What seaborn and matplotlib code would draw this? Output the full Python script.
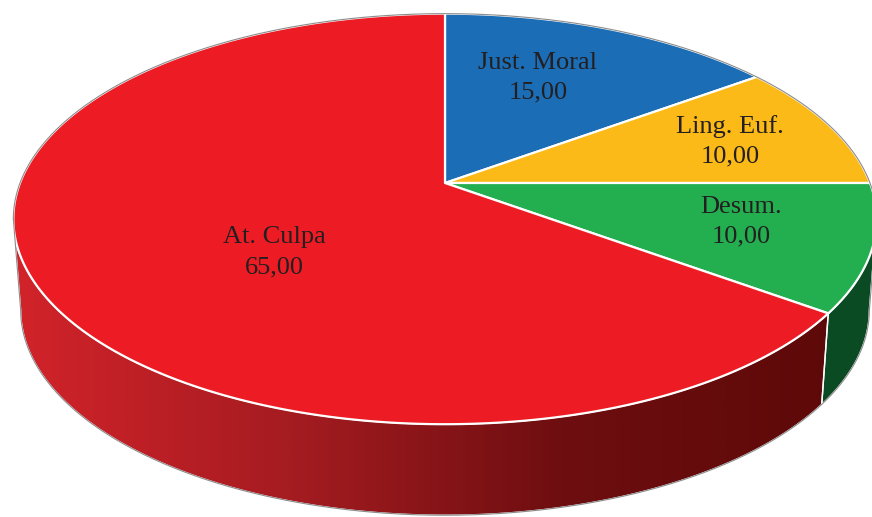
import numpy as np
import matplotlib
matplotlib.use("Agg")
import matplotlib.pyplot as plt
import seaborn as sns
from matplotlib.patches import Polygon
from matplotlib.colors import LinearSegmentedColormap

# Share of each category (percent), in clockwise order starting at 12 o'clock
categories = ["Just. Moral", "Ling. Euf.", "Desum.", "At. Culpa"]
values = [15.0, 10.0, 10.0, 65.0]
value_labels = ["15,00", "10,00", "10,00", "65,00"]

# Face and side colours of every slice
top_colors = ["#1B6DB6", "#FBBA17", "#23AF4F", "#ED1C24"]
side_colors = ["#0E3A62", "#8A6208", "#0B4B24", None]
red_side_ramp = ["#D2232A", "#A51C21", "#6E0E10", "#5E0909"]

# Label placement on the disc (radius fraction, angular nudge in degrees)
label_radius = [0.63, 0.73, 0.70, 0.50]
label_nudge = [-4.5, 0.5, -2.3, -14.0]

sns.set_theme(style="white")
plt.rcParams["font.family"] = ["Liberation Serif", "DejaVu Serif"]

W, H = 872, 517
fig = plt.figure(figsize=(W / 100, H / 100), dpi=100)
ax = fig.add_axes([0, 0, 1, 1])
ax.set_xlim(0, W)
ax.set_ylim(H, 0)
ax.axis("off")

# Perspective disc: apex, half-axes, foreshortening, thickness
CX, CY = 445.0, 183.0
A, B, K = 425.0, 199.0, 0.175
DEPTH, SHRINK = 91.0, 0.983


def project(theta, r=1.0):
    """Map clockwise-from-top angle (deg) and radius on the disc to the screen."""
    t = np.radians(theta)
    u, v = r * np.sin(t), r * np.cos(t)
    w = 1.0 + K * v
    return CX + A * u / w, CY - B * v / w


def lower(x, y):
    return CX + SHRINK * (x - CX), y + DEPTH


# Silhouette tangents: the side wall is visible between them (near half)
grid = np.linspace(0, 360, 3601)
gx, _ = project(grid)
right_tan = grid[np.argmax(gx)]
left_tan = grid[np.argmin(gx)]

bounds = np.concatenate([[0.0], np.cumsum(values) / np.sum(values) * 360.0])

# Side walls
for i in range(len(values)):
    a0, a1 = max(bounds[i], right_tan), min(bounds[i + 1], left_tan)
    if a1 <= a0:
        continue
    th = np.linspace(a0, a1, 300)
    x, y = project(th)
    xb, yb = lower(x, y)
    pts = np.column_stack([np.concatenate([x, xb[::-1]]), np.concatenate([y, yb[::-1]])])
    if side_colors[i] is None:
        poly = Polygon(pts, closed=True, facecolor="none", edgecolor="white", lw=1.0, zorder=2)
        ax.add_patch(poly)
        cmap = LinearSegmentedColormap.from_list("side", red_side_ramp)
        grad = np.linspace(0, 1, 512).reshape(1, -1)
        im = ax.imshow(grad, cmap=cmap, extent=(14, 835, H, 0), aspect="auto", zorder=1)
        im.set_clip_path(poly)
    else:
        ax.add_patch(Polygon(pts, closed=True, facecolor=side_colors[i],
                             edgecolor="white", lw=1.0, zorder=2))

# Top faces
for i in range(len(values)):
    th = np.linspace(bounds[i], bounds[i + 1], 300)
    x, y = project(th)
    pts = np.column_stack([np.concatenate([[CX], x]), np.concatenate([[CY], y])])
    ax.add_patch(Polygon(pts, closed=True, facecolor=top_colors[i],
                         edgecolor="white", lw=1.6, joinstyle="round", zorder=3))

# Thin grey outline around the solid
th_far = np.linspace(left_tan - 360, right_tan, 600)
fx, fy = project(th_far)
th_near = np.linspace(right_tan, left_tan, 600)
nx, ny = lower(*project(th_near))
ox = np.concatenate([fx, nx, fx[:1]])
oy = np.concatenate([fy, ny, fy[:1]])
ax.plot(ox, oy, color="#8C8C8C", lw=0.8, zorder=4)

# Category and value labels
for i in range(len(values)):
    mid = (bounds[i] + bounds[i + 1]) / 2 + label_nudge[i]
    lx, ly = project(mid, label_radius[i])
    ax.text(lx, ly, f"{categories[i]}\n{value_labels[i]}", ha="center", va="center",
            multialignment="center", fontsize=19, color="#231F20", linespacing=1.45,
            zorder=5)

fig.savefig("out.png", dpi=100)
